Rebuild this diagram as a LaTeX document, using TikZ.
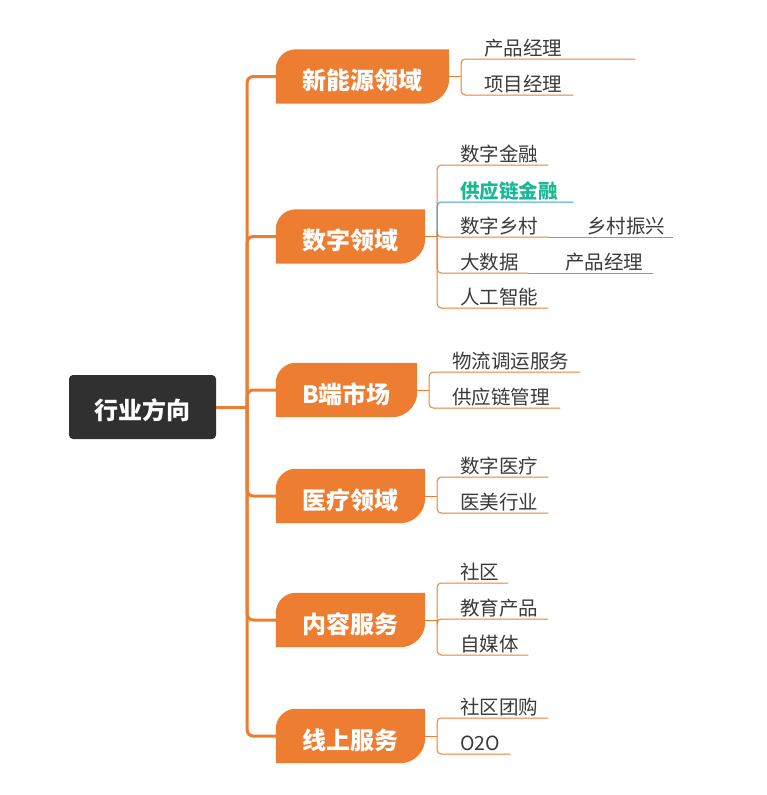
\documentclass[tikz,border=0pt]{standalone}
\usepackage{fontspec}
\newfontfamily\cjk{Noto Sans CJK SC}
\usetikzlibrary{positioning,backgrounds}
\definecolor{mmorange}{RGB}{237,125,49}
\definecolor{mmdark}{RGB}{48,48,48}
\definecolor{leafgray}{RGB}{58,58,58}
\definecolor{tealtext}{RGB}{26,185,150}
\definecolor{tealline}{RGB}{58,160,190}

\begin{document}
\begin{tikzpicture}[
		x=1pt, y=-1pt,
		line join=round, line cap=round,
		every node/.style={font=\cjk},
		rootbox/.style={fill=mmdark, text=white, rounded corners=4pt,
				minimum width=147pt, minimum height=64pt,
				text height=27pt, text depth=3pt,
				font=\cjk\bfseries\fontsize{24}{24}\selectfont},
		branch/.style={text=white, minimum height=54pt, inner sep=0pt,
				text height=29pt, text depth=3pt,
				font=\cjk\bfseries\fontsize{24}{24}\selectfont},
		leaf/.style={anchor=south west, inner sep=0pt, text height=17pt,
				text depth=3.6pt, align=left, text=leafgray,
				font=\cjk\fontsize{19.5}{19.5}\selectfont},
		trunk/.style={mmorange, line width=3pt},
		twig/.style={mmorange, line width=1pt, rounded corners=4pt}
	]
	\useasboundingbox (0,0) rectangle (767,795);

	% Root and main branches
	\node[rootbox] (root) at (142.5,407) {行业方向};
	\node[branch, minimum width=173pt] (b1) at (362.5,76.5) {新能源领域};
	\node[branch, minimum width=149pt] (b2) at (350.5,236.5) {数字领域};
	\node[branch, minimum width=141pt] (b3) at (346.5,390) {B端市场};
	\node[branch, minimum width=149pt] (b4) at (350.5,496) {医疗领域};
	\node[branch, minimum width=149pt] (b5) at (350.5,620) {内容服务};
	\node[branch, minimum width=149pt] (b6) at (350.5,736) {线上服务};

	% Leaves (text start, underline y)
	\node[leaf, text width=151pt] (l11) at (484,59) {产品经理};
	\node[leaf, text width=89pt] (l12) at (484,95) {项目经理};

	\node[leaf, text width=88pt] (l21) at (460,165) {数字金融};
	\node[leaf, text width=113pt, text=tealtext, font=\cjk\bfseries\fontsize{19.5}{19.5}\selectfont] (l22) at (460,202) {供应链金融};
	\node[leaf, text width=88pt] (l23) at (460,237) {数字乡村};
	\node[leaf, text width=86pt] (l231) at (587,237) {乡村振兴};
	\node[leaf, text width=68pt] (l24) at (460,273) {大数据};
	\node[leaf, text width=88pt] (l241) at (565,273) {产品经理};
	\node[leaf, text width=88pt] (l25) at (460,308) {人工智能};

	\node[leaf, text width=128pt] (l31) at (452,372) {物流调运服务};
	\node[leaf, text width=108pt] (l32) at (452,408) {供应链管理};

	\node[leaf, text width=88pt] (l41) at (460,477) {数字医疗};
	\node[leaf, text width=88pt] (l42) at (460,513) {医美行业};

	\node[leaf, text width=48pt] (l51) at (460,583) {社区};
	\node[leaf, text width=88pt] (l52) at (460,619) {教育产品};
	\node[leaf, text width=68pt] (l53) at (460,655) {自媒体};

	\node[leaf, text width=88pt] (l61) at (460,718) {社区团购};
	\node[leaf, text width=50pt] (l62) at (460,754) {O2O};

	\begin{scope}[on background layer]
		% Trunk
		\coordinate (t) at ([xshift=31pt]root.east);
		\draw[trunk] (root.east) -- (t);
		\foreach \k in {1,...,6}{
				\draw[trunk, rounded corners=6pt] (t) |- (b\k.west);
			}

		% Branch shapes
		\foreach \k in {1,...,6}{
				\fill[mmorange] (b\k.south west) -- ([yshift=-20pt]b\k.north west)
				arc[start angle=180, end angle=90, radius=20pt] -- (b\k.north east)
				-- ([yshift=25pt]b\k.south east)
				arc[start angle=0, end angle=-90, radius=25pt] -- cycle;
				\coordinate (j\k) at ([xshift=12pt]b\k.east);
				\draw[twig] (b\k.east) -- (j\k);
			}

		% Leaf connectors
		\foreach \j/\l in {j1/l11, j1/l12, j2/l21, j2/l23, j2/l24, j2/l25,
				j3/l31, j3/l32, j4/l41, j4/l42, j5/l51, j5/l52, j5/l53,
				j6/l61, j6/l62}{
				\draw[twig] (\j) |- (\l.south east);
			}
		\draw[twig] (l23.south east) -- (l231.south east);
		\draw[twig] (l24.south east) -- (l241.south east);
		\draw[twig, tealline] (j2) |- (l22.south east);
	\end{scope}
\end{tikzpicture}
\end{document}
